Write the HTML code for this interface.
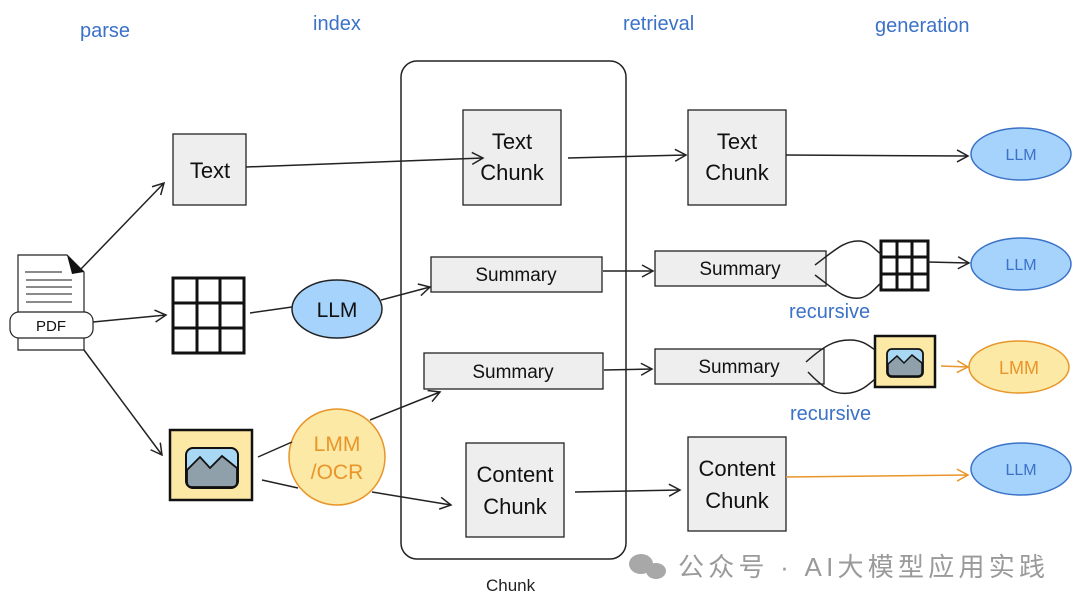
<!DOCTYPE html>
<html><head><meta charset="utf-8"><style>
body{margin:0;background:#fff}
svg text{font-family:"Comic Sans MS","Liberation Sans","Noto Sans CJK SC",sans-serif}
</style></head><body>
<svg width="1080" height="608" viewBox="0 0 1080 608" xmlns="http://www.w3.org/2000/svg">
<defs>
<marker id="a" markerWidth="14" markerHeight="14" refX="12" refY="7" orient="auto" markerUnits="userSpaceOnUse"><path d="M1,1 L12,7 L1,13" fill="none" stroke="#222" stroke-width="1.5"/></marker>
<marker id="o" markerWidth="14" markerHeight="14" refX="12" refY="7" orient="auto" markerUnits="userSpaceOnUse"><path d="M1,1 L12,7 L1,13" fill="none" stroke="#e8952a" stroke-width="1.5"/></marker>
</defs>
<g fill="#3b72c8" font-size="20">
<text x="80" y="37">parse</text><text x="313" y="30">index</text><text x="623" y="30">retrieval</text><text x="875" y="32">generation</text>
<text x="789" y="318">recursive</text><text x="790" y="420">recursive</text>
</g>
<rect x="401" y="61" width="225" height="498" rx="16" fill="none" stroke="#222" stroke-width="1.5"/>
<text x="486" y="591" font-size="17" fill="#222">Chunk</text>
<g stroke="#222" stroke-width="1.3" fill="#eeeeee">
<rect x="173" y="134" width="73" height="71"/>
<rect x="463" y="110" width="98" height="95"/>
<rect x="688" y="110" width="98" height="95"/>
<rect x="431" y="257" width="171" height="35"/>
<rect x="424" y="353" width="179" height="36"/>
<rect x="466" y="443" width="98" height="94"/>
<rect x="655" y="251" width="171" height="35"/>
<rect x="655" y="349" width="169" height="35"/>
<rect x="688" y="437" width="98" height="94"/>
</g>
<g font-size="22" fill="#111" text-anchor="middle">
<text x="210" y="178">Text</text>
<text x="512" y="149">Text</text><text x="512" y="180">Chunk</text>
<text x="737" y="149">Text</text><text x="737" y="180">Chunk</text>
<text x="516" y="281" font-size="19">Summary</text>
<text x="513" y="378" font-size="19">Summary</text>
<text x="740" y="275" font-size="19">Summary</text>
<text x="739" y="373" font-size="19">Summary</text>
<text x="515" y="482">Content</text><text x="515" y="514">Chunk</text>
<text x="737" y="476">Content</text><text x="737" y="508">Chunk</text>
</g>
<!-- PDF -->
<path d="M18,255 H67 L84,272 V350 H18 Z" fill="#fff" stroke="#222" stroke-width="1.2"/>
<path d="M67,255 L84,272 L72,274 Z" fill="#111"/>
<g stroke="#444" stroke-width="1.2"><line x1="25" y1="272" x2="62" y2="272"/><line x1="26" y1="280" x2="72" y2="280"/><line x1="26" y1="287" x2="72" y2="287"/><line x1="26" y1="294" x2="72" y2="294"/><line x1="26" y1="302" x2="72" y2="302"/></g>
<rect x="10" y="312" width="83" height="26" rx="9" fill="#fff" stroke="#222" stroke-width="1.2"/>
<text x="51" y="331" font-size="15" text-anchor="middle" fill="#111">PDF</text>
<!-- grids -->
<g stroke="#111" stroke-width="3" fill="#fff">
<rect x="173" y="278" width="71" height="75"/>
<line x1="197" y1="278" x2="197" y2="353"/><line x1="220" y1="278" x2="220" y2="353"/>
<line x1="173" y1="303" x2="244" y2="303"/><line x1="173" y1="328" x2="244" y2="328"/>
<rect x="881" y="241" width="47" height="49"/>
<line x1="897" y1="241" x2="897" y2="290"/><line x1="912" y1="241" x2="912" y2="290"/>
<line x1="881" y1="257" x2="928" y2="257"/><line x1="881" y1="274" x2="928" y2="274"/>
</g>
<!-- images -->
<rect x="170" y="430" width="82" height="70" fill="#fce9a6" stroke="#111" stroke-width="2.5"/>
<rect x="186" y="448" width="52" height="40" rx="7" fill="#a8d8f4" stroke="#111" stroke-width="2"/>
<path d="M187,470 L200,457 L210,468 L222,456 L237,468 V482 Q237,487 232,487 H192 Q187,487 187,482 Z" fill="#8fa0ab" stroke="#111" stroke-width="1.8"/>
<rect x="875" y="336" width="60" height="51" fill="#fce9a6" stroke="#111" stroke-width="2.5"/>
<rect x="887" y="349" width="36" height="28" rx="5" fill="#a8d8f4" stroke="#111" stroke-width="1.8"/>
<path d="M888,364 L897,356 L904,363 L912,355 L922,363 V372 Q922,376 918,376 H892 Q888,376 888,372 Z" fill="#8fa0ab" stroke="#111" stroke-width="1.5"/>
<!-- ellipses -->
<ellipse cx="337" cy="309" rx="45" ry="29" fill="#a5d3fb" stroke="#222" stroke-width="1.5"/>
<text x="337" y="317" font-size="21" text-anchor="middle" fill="#111">LLM</text>
<circle cx="337" cy="457" r="48" fill="#fce9a6" stroke="#e8952a" stroke-width="1.5"/>
<text x="337" y="451" font-size="21" text-anchor="middle" fill="#e8952a">LMM</text>
<text x="337" y="479" font-size="21" text-anchor="middle" fill="#e8952a">/OCR</text>
<g stroke="#3b72c8" stroke-width="1.5" fill="#a5d3fb">
<ellipse cx="1021" cy="154" rx="50" ry="26"/><ellipse cx="1021" cy="264" rx="50" ry="26"/><ellipse cx="1021" cy="469" rx="50" ry="26"/>
</g>
<ellipse cx="1019" cy="367" rx="50" ry="26" fill="#fce9a6" stroke="#e8952a" stroke-width="1.5"/>
<g font-size="16" text-anchor="middle" fill="#3b72c8"><text x="1021" y="160">LLM</text><text x="1021" y="270">LLM</text><text x="1021" y="475">LLM</text></g>
<text x="1019" y="374" font-size="18" text-anchor="middle" fill="#e8952a">LMM</text>
<!-- arrows -->
<g stroke="#222" stroke-width="1.5" fill="none">
<line x1="80" y1="270" x2="164" y2="183" marker-end="url(#a)"/>
<line x1="93" y1="322" x2="166" y2="315" marker-end="url(#a)"/>
<line x1="84" y1="350" x2="162" y2="455" marker-end="url(#a)"/>
<line x1="246" y1="167" x2="483" y2="158" marker-end="url(#a)"/>
<line x1="568" y1="158" x2="686" y2="155" marker-end="url(#a)"/>
<line x1="786" y1="155" x2="968" y2="156" marker-end="url(#a)"/>
<line x1="250" y1="313" x2="292" y2="307"/>
<line x1="381" y1="300" x2="430" y2="287" marker-end="url(#a)"/>
<line x1="258" y1="457" x2="292" y2="442"/>
<line x1="370" y1="420" x2="440" y2="392" marker-end="url(#a)"/>
<line x1="262" y1="480" x2="298" y2="488"/>
<line x1="372" y1="492" x2="451" y2="505" marker-end="url(#a)"/>
<line x1="603" y1="271" x2="653" y2="271" marker-end="url(#a)"/>
<line x1="604" y1="370" x2="652" y2="369" marker-end="url(#a)"/>
<line x1="575" y1="492" x2="680" y2="490" marker-end="url(#a)"/>
<line x1="928" y1="262" x2="969" y2="263" marker-end="url(#a)"/>
<path d="M815,265 C835,250 845,240 860,241 C870,242 875,250 881,254"/>
<path d="M815,275 C835,290 845,300 860,298 C870,296 875,288 881,283"/>
<path d="M806,362 C825,345 835,340 850,340 C862,340 868,345 875,350"/>
<path d="M808,372 C825,390 835,395 850,393 C862,391 868,385 875,379"/>
</g>
<line x1="941" y1="366" x2="968" y2="367" stroke="#e8952a" stroke-width="1.5" marker-end="url(#o)"/>
<line x1="786" y1="477" x2="968" y2="475" stroke="#e8952a" stroke-width="1.5" marker-end="url(#o)"/>
<!-- watermark -->
<ellipse cx="641" cy="564" rx="12" ry="10" fill="#a8a8a8"/><ellipse cx="656" cy="571" rx="10" ry="8" fill="#a8a8a8"/>
<text x="678" y="576" font-size="26" fill="#9a9a9a" textLength="367" lengthAdjust="spacing">公众号 · AI大模型应用实践</text>
</svg>
</body></html>
